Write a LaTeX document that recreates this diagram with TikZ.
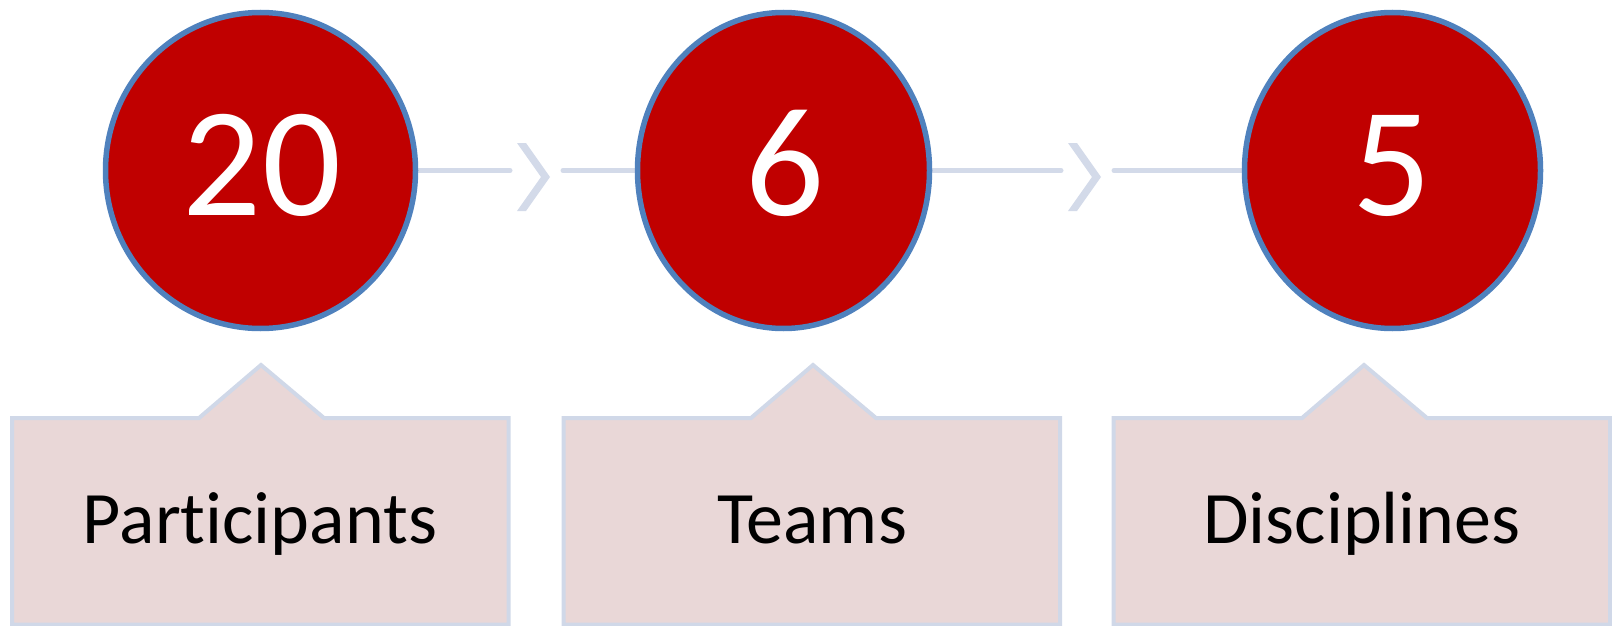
\documentclass[tikz,border=0pt]{standalone}
\usepackage{fontspec}
\setmainfont{Carlito}[Ligatures={NoCommon,NoDiscretionary,NoContextual}]
\usetikzlibrary{shapes.geometric,backgrounds}
\definecolor{discred}{HTML}{C00000}
\definecolor{discblue}{HTML}{4F81BD}
\definecolor{connblue}{HTML}{D3DAE9}
\definecolor{boxfill}{HTML}{E9D7D7}
\definecolor{boxline}{HTML}{D0D8E8}
\tikzset{
  numcirc/.style={ellipse, draw=discblue, fill=discred, line width=5.5pt, inner sep=0pt, minimum height=316pt},
  numtext/.style={text=white, font=\fontsize{156}{160}\selectfont, inner sep=0pt, anchor=base},
  conn/.style={draw=connblue, line width=5pt, line cap=round},
  chev/.style={fill=connblue, draw=none},
  tagbox/.style={fill=boxfill, draw=boxline, line width=4pt, line join=miter},
  tagtext/.style={text=black, font=\fontsize{74}{76}\selectfont, inner sep=0pt, anchor=base}
}
\begin{document}
\begin{tikzpicture}[x=1pt,y=-1pt]
\useasboundingbox (0,0) rectangle (1612,626);
% circles
\node[numcirc, minimum width=310pt] (c1) at (260.5,170.5) {};
\node[numcirc, minimum width=292pt] (c2) at (783.5,170.5) {};
\node[numcirc, minimum width=296pt] (c3) at (1392.5,170.5) {};
\node[numtext] (n1) at (262,215) {20};
\node[numtext] (n2) at (785,215) {6};
\node[numtext] (n3) at (1392,215) {5};
% connectors behind the circles
\coordinate (k1a) at (510,170.5);
\coordinate (k1b) at (563,170.5);
\coordinate (k2a) at (1061,170.5);
\coordinate (k2b) at (1114,170.5);
\begin{scope}[on background layer]
\draw[conn] (c1.center) -- (k1a);
\draw[conn] (k1b) -- (c2.center);
\draw[conn] (c2.center) -- (k2a);
\draw[conn] (k2b) -- (c3.center);
\fill[chev] (517,143) -- (526,143) -- (550,177) -- (526,211) -- (517,211) -- (541,177) -- cycle;
\fill[chev] (1068,143) -- (1077,143) -- (1101,177) -- (1077,211) -- (1068,211) -- (1092,177) -- cycle;
\end{scope}
% label boxes
\draw[tagbox] (12,418) -- (199,418) -- (261,365) -- (324,418) -- (508.5,418) -- (508.5,624.5) -- (12,624.5) -- cycle;
\draw[tagbox] (563.5,418) -- (751,418) -- (813,365) -- (876,418) -- (1060,418) -- (1060,624.5) -- (563.5,624.5) -- cycle;
\draw[tagbox] (1113.5,418) -- (1302,418) -- (1364,365) -- (1427,418) -- (1610,418) -- (1610,624.5) -- (1113.5,624.5) -- cycle;
\node[tagtext] (t1) at (260,543) {Participants};
\node[tagtext] (t2) at (812,543) {Teams};
\node[tagtext] (t3) at (1362,543) {Disciplines};
\end{tikzpicture}
\end{document}
